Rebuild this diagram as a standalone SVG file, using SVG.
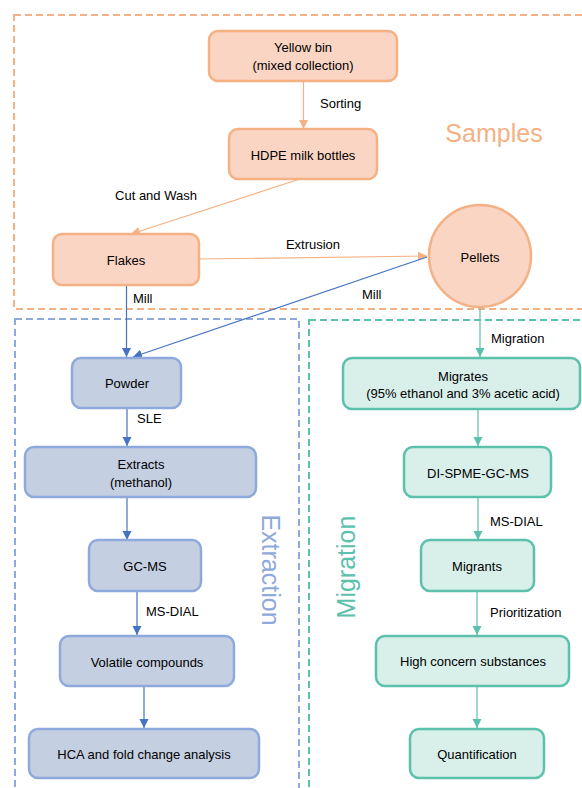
<svg xmlns="http://www.w3.org/2000/svg" width="582" height="788" viewBox="0 0 582 788">
<style>
text{font-family:"Liberation Sans",Arial,sans-serif;font-size:13px;fill:#000;text-anchor:middle;dominant-baseline:central}
.lbl{text-anchor:start}
.o{fill:#FBD5C4;stroke:#F4B183;stroke-width:2.5}
.b{fill:#C5CFE2;stroke:#8EA9DB;stroke-width:2.5}
.t{fill:#D8EFEA;stroke:#5BC0AC;stroke-width:2.5}
.frame{fill:none;stroke-width:2;stroke-dasharray:7 4}
.co{stroke:#F4B183;stroke-width:1.2;fill:none}
.cb{stroke:#4472C4;stroke-width:1.2;fill:none}
.ct{stroke:#5BC0AC;stroke-width:1.2;fill:none}
.big{font-size:25px}
</style>
<defs>
<marker id="ao" markerUnits="userSpaceOnUse" markerWidth="10" markerHeight="10" refX="9" refY="5" orient="auto"><path d="M0,0.5 L9,5 L0,9.5 Z" fill="#F4B183"/></marker>
<marker id="ab" markerUnits="userSpaceOnUse" markerWidth="10" markerHeight="10" refX="9" refY="5" orient="auto"><path d="M0,0.5 L9,5 L0,9.5 Z" fill="#4472C4"/></marker>
<marker id="at" markerUnits="userSpaceOnUse" markerWidth="10" markerHeight="10" refX="9" refY="5" orient="auto"><path d="M0,0.5 L9,5 L0,9.5 Z" fill="#5BC0AC"/></marker>
</defs>

<g id="frames">
<rect class="frame" x="14" y="15" width="600" height="294" stroke="#F4B183"/>
<rect class="frame" x="15" y="319" width="284" height="500" stroke="#8EA9DB"/>
<rect class="frame" x="309" y="320" width="300" height="500" stroke="#5BC0AC"/>
<text class="big" x="494" y="133" fill="#F4B183" style="fill:#F4B183">Samples</text>
<text class="big" x="271" y="570" transform="rotate(90 271 570)" style="fill:#8EA9DB">Extraction</text>
<text class="big" x="346" y="567" transform="rotate(-90 346 567)" style="fill:#5BC0AC">Migration</text>
</g>

<g id="connectors">
<line class="co" x1="303.5" y1="81" x2="303.5" y2="129" marker-end="url(#ao)"/>
<line class="co" x1="300" y1="179" x2="131" y2="234" marker-end="url(#ao)"/>
<line class="co" x1="199" y1="259" x2="427" y2="256" marker-end="url(#ao)"/>
<line class="cb" x1="126.5" y1="285" x2="126.5" y2="357" marker-end="url(#ab)"/>
<line class="cb" x1="427" y1="257" x2="133" y2="357" marker-end="url(#ab)"/>
<line class="cb" x1="127" y1="408" x2="127" y2="446" marker-end="url(#ab)"/>
<line class="cb" x1="127" y1="497" x2="127" y2="540" marker-end="url(#ab)"/>
<line class="cb" x1="137" y1="591" x2="137" y2="635" marker-end="url(#ab)"/>
<line class="cb" x1="144" y1="686" x2="144" y2="728" marker-end="url(#ab)"/>
<line class="ct" x1="480" y1="307" x2="480" y2="357" marker-end="url(#at)"/>
<line class="ct" x1="478" y1="409" x2="478" y2="446" marker-end="url(#at)"/>
<line class="ct" x1="478" y1="498" x2="478" y2="540" marker-end="url(#at)"/>
<line class="ct" x1="477" y1="591" x2="477" y2="635" marker-end="url(#at)"/>
<line class="ct" x1="477" y1="686" x2="477" y2="728" marker-end="url(#at)"/>
<text class="lbl" x="320" y="103">Sorting</text>
<text x="156" y="195">Cut and Wash</text>
<text x="313" y="244">Extrusion</text>
<text class="lbl" x="133" y="298">Mill</text>
<text class="lbl" x="362" y="294">Mill</text>
<text class="lbl" x="137" y="418">SLE</text>
<text class="lbl" x="146" y="611">MS-DIAL</text>
<text class="lbl" x="491" y="338">Migration</text>
<text class="lbl" x="490" y="521">MS-DIAL</text>
<text class="lbl" x="490" y="612">Prioritization</text>
</g>

<g id="yellow-bin"><rect class="o" x="209" y="31" width="188" height="50" rx="9"/><text x="303" y="47">Yellow bin</text><text x="303" y="65">(mixed collection)</text></g>
<g id="hdpe"><rect class="o" x="229" y="129" width="148" height="50" rx="9"/><text x="303" y="155">HDPE milk bottles</text></g>
<g id="flakes"><rect class="o" x="53" y="234" width="146" height="51" rx="9"/><text x="126" y="260">Flakes</text></g>
<g id="pellets"><circle class="o" cx="480" cy="256" r="51"/><text x="480" y="257">Pellets</text></g>

<g id="powder"><rect class="b" x="72" y="358" width="109" height="50" rx="9"/><text x="127" y="383">Powder</text></g>
<g id="extracts"><rect class="b" x="25" y="447" width="231" height="50" rx="9"/><text x="141" y="464">Extracts</text><text x="141" y="482">(methanol)</text></g>
<g id="gcms"><rect class="b" x="89" y="540" width="112" height="51" rx="9"/><text x="145" y="566">GC-MS</text></g>
<g id="volatile"><rect class="b" x="60" y="636" width="174" height="50" rx="9"/><text x="147" y="662">Volatile compounds</text></g>
<g id="hca"><rect class="b" x="29" y="729" width="230" height="49" rx="9"/><text x="144" y="754">HCA and fold change analysis</text></g>

<g id="migrates"><rect class="t" x="343" y="358" width="237" height="51" rx="9"/><text x="463" y="376">Migrates</text><text x="463" y="393">(95% ethanol and 3% acetic acid)</text></g>
<g id="dispme"><rect class="t" x="404" y="447" width="147" height="50" rx="9"/><text x="478" y="473">DI-SPME-GC-MS</text></g>
<g id="migrants"><rect class="t" x="421" y="540" width="113" height="51" rx="9"/><text x="477" y="566">Migrants</text></g>
<g id="high-concern"><rect class="t" x="376" y="636" width="193" height="50" rx="9"/><text x="473" y="661">High concern substances</text></g>
<g id="quantification"><rect class="t" x="410" y="729" width="134" height="49" rx="9"/><text x="477" y="754">Quantification</text></g>
</svg>
